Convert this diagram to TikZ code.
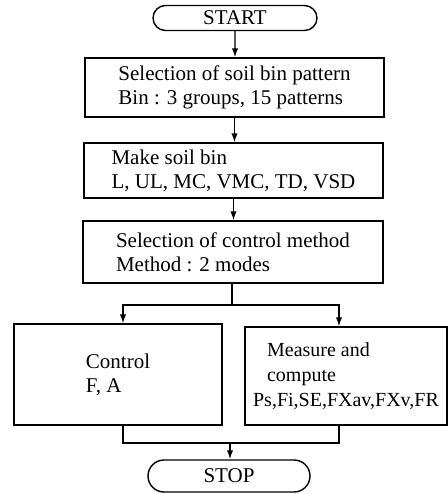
\documentclass[tikz,border=0pt]{standalone}
\usepackage{fontspec}
\setmainfont{Liberation Serif}
\usetikzlibrary{positioning, arrows.meta, shapes.misc}

\begin{document}
\begin{tikzpicture}[x=0.5pt, y=-0.5pt, line width=0.7pt,
    bloc/.style={draw, rectangle, align=left, inner sep=0pt, font=\fontsize{10.5}{12}\selectfont},
    borne/.style={draw, rounded rectangle, inner sep=0pt, font=\fontsize{10.5}{12}\selectfont},
    fleche/.style={-{Latex[length=4.5pt, width=3.2pt]}}]
  \useasboundingbox (0,0) rectangle (448,494);

  % debut et etapes successives
  \node[borne, minimum width=82pt, minimum height=12.5pt] (debut) at (235,18) {START};
  \node[bloc, minimum width=149.5pt, minimum height=29.5pt] (choixbac) at (234.5,87.5)
       {Selection of soil bin pattern\\Bin : 3 groups, 15 patterns};
  \node[bloc, minimum width=149.5pt, minimum height=27.5pt] (bac) at (233.5,170.5)
       {Make soil bin\\L, UL, MC, VMC, TD, VSD};
  \node[bloc, minimum width=150pt, minimum height=31pt] (choixmode) at (233,252)
       {Selection of control method\\Method : 2 modes};

  % deux branches en parallele
  \node[bloc, minimum width=104pt, minimum height=50.5pt] (controle) at (118,374.5)
       {Control\\F, A};
  \node[bloc, minimum width=101pt, minimum height=49pt, font=\fontsize{10}{12.5}\selectfont]
       (mesure) at (346,376)
       {\hspace*{7pt}Measure and\\\hspace*{7pt}compute\\Ps,Fi,SE,FXav,FXv,FR};
  \node[borne, minimum width=81pt, minimum height=16pt] (fin) at (229,476) {STOP};

  \coordinate (partage) at (232,305);
  \coordinate (reunion) at (230,443);

  \draw[fleche] (debut) -- (debut |- choixbac.north);
  \draw[fleche] (choixbac) -- (choixbac |- bac.north);
  \draw[fleche] (bac) -- (bac |- choixmode.north);
  \draw (choixmode.south -| partage) -- (partage);
  \draw[fleche] (partage) -| ([xshift=2.5pt]controle.north);
  \draw[fleche] (partage) -| ([xshift=-3.5pt]mesure.north);

  \draw ([xshift=2.5pt]controle.south) |- (reunion) -| ([xshift=-3.5pt]mesure.south);
  \draw[fleche] (reunion) -- (reunion |- fin.north);
\end{tikzpicture}
\end{document}
